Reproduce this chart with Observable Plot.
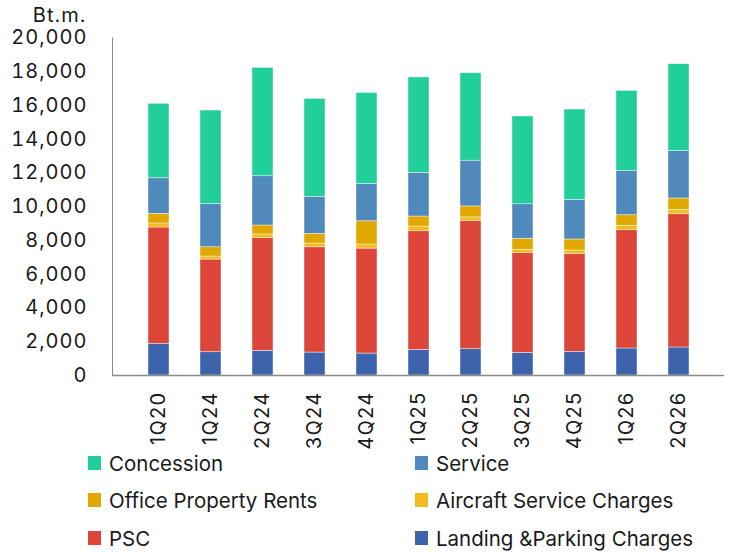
<!DOCTYPE html>
<html>
<head>
<meta charset="utf-8">
<script src="https://cdn.jsdelivr.net/npm/d3@7"></script>
<script src="https://cdn.jsdelivr.net/npm/@observablehq/plot@0.6"></script>
<style>
  html, body { margin: 0; padding: 0; background: #fff; }
  #wrap { position: relative; width: 746px; height: 552px; font-family: Inter, "Noto Sans", sans-serif; }
  #legend { position: absolute; left: 0; top: 0; width: 746px; }
  .item { position: absolute; display: flex; align-items: center; font-size: 20.5px; color: #1a1a1a; height: 30px; white-space: nowrap; letter-spacing: 0px; }
  .sw { width: 13px; height: 14px; margin-right: 8px; flex: none; }
  .xl text { letter-spacing: 1.3px; }
</style>
</head>
<body>
<div id="wrap"><div id="chart"></div><div id="legend"></div></div>
<script>
const quarters = ["1Q20","1Q24","2Q24","3Q24","4Q24","1Q25","2Q25","3Q25","4Q25","1Q26","2Q26"];
const landing    = [1880,1380,1460,1360,1300,1520,1560,1340,1400,1600,1660];
const psc        = [6890,5490,6680,6240,6220,7030,7590,5910,5790,7010,7900];
const aircraft   = [240,180,220,220,240,280,220,200,220,260,260];
const office     = [570,550,530,570,1380,590,650,650,650,630,670];
const service    = [2110,2570,2920,2200,2210,2590,2710,2050,2350,2610,2820];
const concession = [4410,5530,6420,5800,5390,5650,5180,5200,5350,4760,5140];

const seriesNames = ["Landing &Parking Charges","PSC","Aircraft Service Charges","Office Property Rents","Service","Concession"];
const seriesValues = [landing, psc, aircraft, office, service, concession];
const seriesColors = ["#3c63ac","#dc463a","#f3bb1c","#e0a800","#508abd","#22ce99"];
const yTicks = [0,2000,4000,6000,8000,10000,12000,14000,16000,18000,20000];

const rows = [];
seriesNames.forEach((s, si) => quarters.forEach((q, qi) => rows.push({quarter: q, series: s, value: seriesValues[si][qi]})));

const chart = Plot.plot({
  width: 746,
  height: 450,
  marginLeft: 112,
  marginRight: 22,
  marginTop: 37.5,
  marginBottom: 75,
  style: {fontFamily: "Inter, 'Noto Sans', sans-serif", fontSize: "20px", color: "#1a1a1a", overflow: "visible", letterSpacing: "1px"},
  x: {domain: quarters, padding: 0.6},
  y: {domain: [0, 20000]},
  color: {domain: seriesNames, range: seriesColors},
  marks: [
    Plot.barY(rows, {x: "quarter", y: "value", fill: "series", order: seriesNames, inset: 0, stroke: "white", strokeWidth: 0.7, strokeOpacity: 0.6}),
    Plot.axisY({ticks: yTicks, tickSize: 0, tickPadding: 25, tickFormat: d3.format(","), label: null, fontSize: 20}),
    Plot.axisX({tickSize: 0, tickPadding: 16, tickRotate: -90, label: null, fontSize: 20, className: "xl"}),
    Plot.ruleY([0], {stroke: "#8c8c8c", strokeWidth: 1.5}),
    Plot.frame({anchor: "left", stroke: "#8c8c8c", strokeWidth: 1}),
    Plot.text(["Bt.m."], {frameAnchor: "top-left", dx: -26, dy: -22, textAnchor: "end", lineAnchor: "middle", fontSize: 20})
  ]
});
document.getElementById("chart").appendChild(chart);

const legendOrder = [
  ["Concession", 88, 448], ["Service", 415, 448],
  ["Office Property Rents", 88, 485], ["Aircraft Service Charges", 415, 485],
  ["PSC", 88, 523], ["Landing &Parking Charges", 415, 523]
];
const lg = document.getElementById("legend");
legendOrder.forEach(([name, x, y]) => {
  const d = document.createElement("div");
  d.className = "item";
  d.style.left = x + "px";
  d.style.top = y + "px";
  const sw = document.createElement("span");
  sw.className = "sw";
  sw.style.background = seriesColors[seriesNames.indexOf(name)];
  const t = document.createElement("span");
  t.textContent = name;
  d.appendChild(sw); d.appendChild(t);
  lg.appendChild(d);
});
</script>
</body>
</html>
